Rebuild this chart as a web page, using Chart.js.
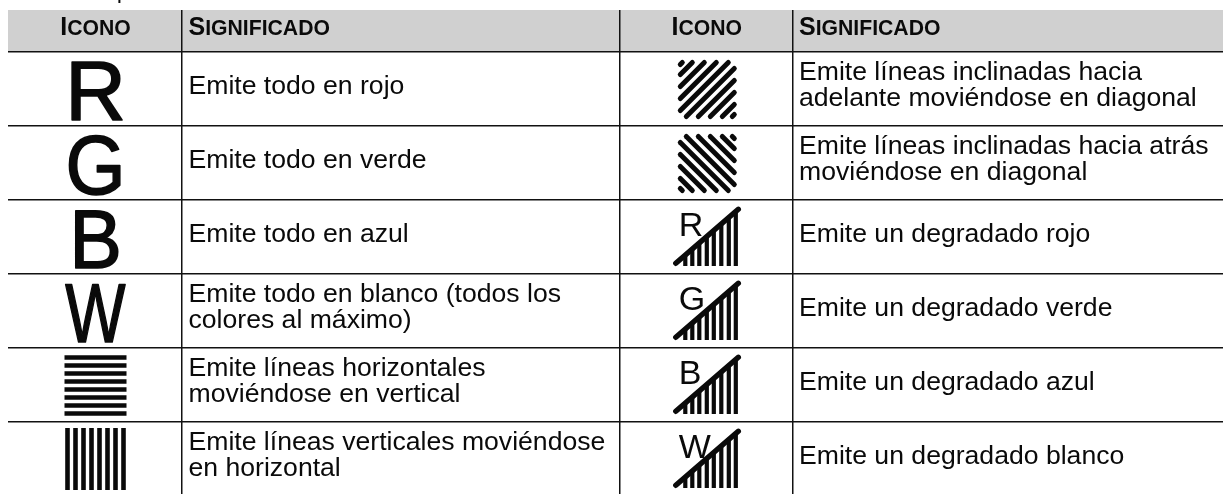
<!DOCTYPE html>
<html>
<head>
<meta charset="utf-8">
<style>
  html, body { margin: 0; background: #fff; }
  canvas { display: block; }
</style>
<script src="https://cdn.jsdelivr.net/npm/chart.js@4"></script>
</head>
<body>
<canvas id="chartContainer" width="1223" height="494"></canvas>
<script>
// table content
const headers = ['Icono', 'Significado'];
const leftIcons = ['R', 'G', 'B', 'W', 'horizontal', 'vertical'];
const leftMeanings = [
  'Emite todo en rojo',
  'Emite todo en verde',
  'Emite todo en azul',
  'Emite todo en blanco (todos los\ncolores al máximo)',
  'Emite líneas horizontales\nmoviéndose en vertical',
  'Emite líneas verticales moviéndose\nen horizontal'
];
const rightIcons = ['forward', 'backward', 'R', 'G', 'B', 'W'];
const rightMeanings = [
  'Emite líneas inclinadas hacia\nadelante moviéndose en diagonal',
  'Emite líneas inclinadas hacia atrás\nmoviéndose en diagonal',
  'Emite un degradado rojo',
  'Emite un degradado verde',
  'Emite un degradado azul',
  'Emite un degradado blanco'
];

// table geometry, in axis units
const columnEdges = [182, 620, 793];
const rowEdges = [52, 126, 200, 274, 348, 422];
const stripeOffsets = [-28, -20, -12, -4, 4, 12, 20, 28];
const diagonalOffsets = [-52, -42, -30, -18, -6, 6, 18, 30, 42, 52];
const rampBarOffsets = [-21.5, -14.5, -7.5, 0, 7, 14.5, 22, 29];
const rampBarHeights = [11, 17, 23, 29, 35, 42, 48, 54];

const FONT = '"Liberation Sans", Arial, sans-serif';
const INK = '#0a0a0a';
const leftIconX = 95.5;
const rightIconX = 706.8;
const leftTextX = 188.5;
const rightTextX = 799;
// the big icon letters are squeezed in the original
const letterSqueeze = { R: 1, G: 0.92, B: 0.94, W: 0.76 };

function segment(points, width, cap) {
  return {
    data: points.map(p => ({ x: p[0], y: p[1] })),
    borderColor: INK,
    borderWidth: width,
    borderCapStyle: cap || 'butt',
    pointRadius: 0,
    fill: false,
    tension: 0
  };
}

const datasets = [
  // header band
  {
    data: [{ x: 8, y: 10 }, { x: 1223, y: 10 }],
    borderWidth: 0,
    pointRadius: 0,
    backgroundColor: '#d0d0d0',
    fill: { value: rowEdges[0] }
  }
];

// descender of the cropped line above the table
const stub = segment([[119.4, 0], [119.4, 3]], 2);
stub.clip = false;
datasets.push(stub);

function addHorizontal(cx, cy) {
  stripeOffsets.forEach(o => datasets.push(segment([[cx - 31, cy + o + 0.5], [cx + 31, cy + o + 0.5]], 4.6)));
}
function addVertical(cx, cy) {
  stripeOffsets.forEach(o => datasets.push(segment([[cx + o, cy - 31], [cx + o, cy + 31]], 4.6)));
}
function addDiagonal(cx, cy, flip) {
  const half = 27;
  diagonalOffsets.forEach(o => {
    // stripe x + y = o, cut to the icon square
    const a = Math.max(-half, o - half);
    const b = Math.min(half, o + half);
    const p1 = [cx + (flip ? -b : a), cy + (flip ? o - b : o - a)];
    const p2 = [cx + (flip ? -a : b), cy + (flip ? o - a : o - b)];
    datasets.push(segment(p1[0] < p2[0] ? [p1, p2] : [p2, p1], 5, 'round'));
  });
}
function addRamp(cx, rowTop) {
  datasets.push(segment([[cx - 31, rowTop + 63.3], [cx + 31.5, rowTop + 9.3]], 5.4, 'round'));
  rampBarOffsets.forEach((o, i) => {
    datasets.push(segment([[cx + o, rowTop + 66 - rampBarHeights[i]], [cx + o, rowTop + 66]], 4.2));
  });
}

leftIcons.forEach((icon, i) => {
  const cy = rowEdges[i] + 37;
  if (icon === 'horizontal') addHorizontal(leftIconX, cy);
  if (icon === 'vertical') addVertical(leftIconX, cy);
});
rightIcons.forEach((icon, i) => {
  const cy = rowEdges[i] + 37.5;
  if (icon === 'forward') addDiagonal(rightIconX + 0.5, cy, false);
  else if (icon === 'backward') addDiagonal(rightIconX + 0.5, cy, true);
  else addRamp(rightIconX, rowEdges[i]);
});

// small caps header: first letter big, the rest smaller
function drawHeader(ctx, word, x, y, centered) {
  const first = word[0].toUpperCase();
  const rest = word.slice(1).toUpperCase();
  ctx.font = 'bold 25px ' + FONT;
  const w1 = ctx.measureText(first).width;
  ctx.font = 'bold 21.2px ' + FONT;
  const w2 = ctx.measureText(rest).width;
  const start = centered ? x - (w1 + w2) / 2 : x;
  ctx.textAlign = 'left';
  ctx.font = 'bold 25px ' + FONT;
  ctx.fillText(first, start, y);
  ctx.font = 'bold 21.2px ' + FONT;
  ctx.fillText(rest, start + w1, y);
}

function drawMeaning(ctx, text, x, rowTop) {
  const lines = text.split('\n');
  ctx.font = '26.6px ' + FONT;
  ctx.textAlign = 'left';
  lines.forEach((line, n) => {
    const base = lines.length === 1 ? 41.5 : 28 + n * 26;
    ctx.fillText(line, x, rowTop + base);
  });
}

const tableText = {
  id: 'tableText',
  afterDatasetsDraw(chart) {
    const { ctx, scales } = chart;
    const X = v => scales.x.getPixelForValue(v);
    const Y = v => scales.y.getPixelForValue(v);
    ctx.save();
    ctx.fillStyle = INK;
    ctx.strokeStyle = INK;
    ctx.textBaseline = 'alphabetic';

    drawHeader(ctx, headers[0], X(leftIconX), Y(34.5), true);
    drawHeader(ctx, headers[1], X(leftTextX), Y(34.5), false);
    drawHeader(ctx, headers[0], X(rightIconX), Y(34.5), true);
    drawHeader(ctx, headers[1], X(rightTextX), Y(34.5), false);

    leftMeanings.forEach((t, i) => drawMeaning(ctx, t, X(leftTextX), Y(rowEdges[i])));
    rightMeanings.forEach((t, i) => drawMeaning(ctx, t, X(rightTextX), Y(rowEdges[i])));

    // big letters in the left icon column
    leftIcons.forEach((icon, i) => {
      if (icon.length > 1) return;
      ctx.save();
      ctx.translate(X(leftIconX), Y(rowEdges[i] + 67.5));
      ctx.scale(letterSqueeze[icon], 1);
      ctx.font = '84px ' + FONT;
      ctx.textAlign = 'center';
      ctx.lineWidth = 1.6;
      ctx.lineJoin = 'round';
      ctx.fillText(icon, 0, 0);
      ctx.strokeText(icon, 0, 0);
      ctx.restore();
    });

    // small letters over the ramps
    rightIcons.forEach((icon, i) => {
      if (icon.length > 1) return;
      ctx.font = '34px ' + FONT;
      ctx.textAlign = 'left';
      ctx.fillText(icon, X(rightIconX - 28), Y(rowEdges[i] + 36));
    });
    ctx.restore();
  }
};

new Chart(document.getElementById('chartContainer'), {
  type: 'line',
  data: { datasets: datasets },
  plugins: [tableText],
  options: {
    responsive: false,
    animation: false,
    events: [],
    layout: { padding: { left: 8, top: 10, right: 0, bottom: 0 } },
    plugins: { legend: { display: false }, tooltip: { enabled: false }, title: { display: false } },
    scales: {
      x: {
        type: 'linear',
        min: 8,
        max: 1223,
        afterBuildTicks: axis => { axis.ticks = columnEdges.map(v => ({ value: v })); },
        ticks: { display: false },
        border: { display: false },
        grid: { color: '#111', lineWidth: 1.5, drawTicks: false, z: 1 }
      },
      y: {
        type: 'linear',
        reverse: true,
        min: 10,
        max: 494,
        afterBuildTicks: axis => { axis.ticks = rowEdges.map(v => ({ value: v })); },
        ticks: { display: false },
        border: { display: false },
        grid: { color: '#111', lineWidth: 1.5, drawTicks: false, z: 1 }
      }
    }
  }
});
</script>
</body>
</html>
